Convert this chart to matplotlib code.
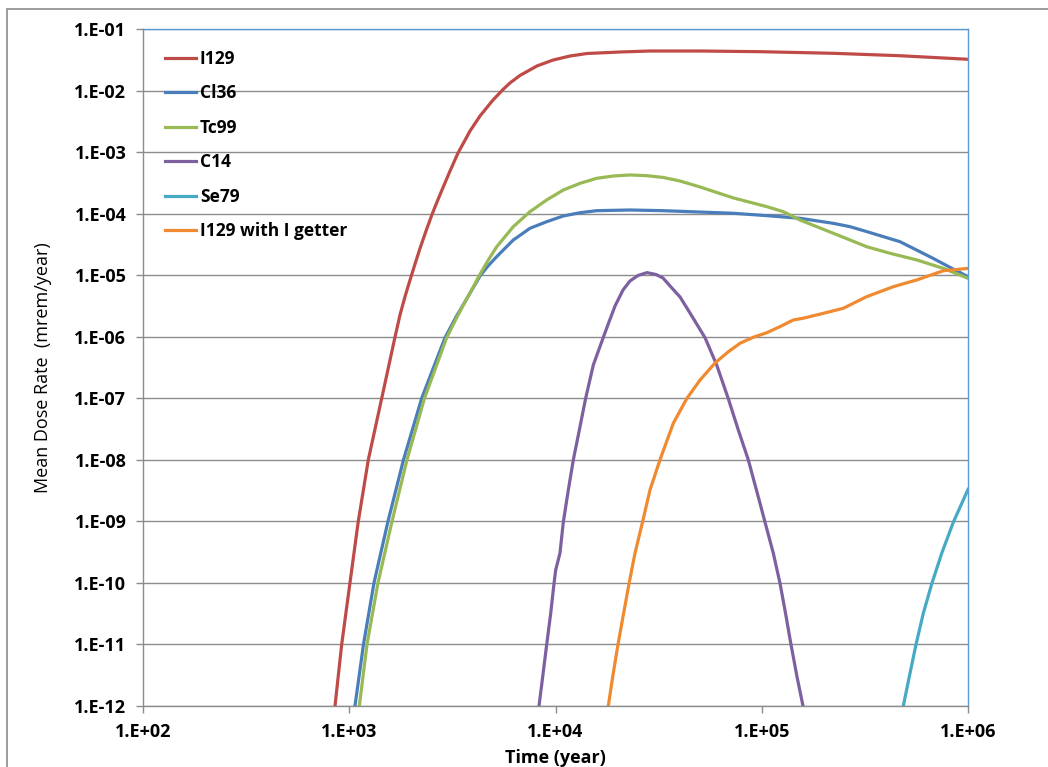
import numpy as np
import matplotlib
matplotlib.use("Agg")
import matplotlib.pyplot as plt
from matplotlib.patches import Rectangle

# values (time in years, dose in mrem/year)
i129_t = [853, 919, 1008, 1106, 1237, 1437, 1667, 1762, 1864, 1971, 2084, 2203, 2356,
          2519, 2664, 2849, 3080, 3368, 3850, 4305, 4977, 5566, 6017, 6729, 8135, 9725,
          11760, 14220, 20550, 28720, 50220, 98060, 221600, 468100, 1e6]
i129_v = [1e-12, 1e-11, 1e-10, 1e-9, 1e-8, 1e-7, 9.9e-7, 2.26e-6, 4.5e-6, 8.36e-6,
          1.52e-5, 2.72e-5, 5.23e-5, 9.68e-5, 1.55e-4, 2.66e-4, 4.93e-4, 9.67e-4,
          2.20e-3, 3.86e-3, 7.02e-3, 1.04e-2, 1.33e-2, 1.76e-2, 2.51e-2, 3.13e-2,
          3.64e-2, 4.0e-2, 4.23e-2, 4.39e-2, 4.39e-2, 4.28e-2, 4.03e-2, 3.68e-2, 3.22e-2]

cl36_t = [1066, 1172, 1318, 1541, 1832, 2245, 2913, 3293, 3682, 3981, 4305, 4707, 5187,
          6243, 7522, 9065, 10910, 13150, 15840, 22970, 33200, 44880, 72560, 106000,
          153300, 221600, 267900, 323800, 468100, 676600, 817800, 1e6]
cl36_v = [1e-12, 1e-11, 1e-10, 1e-9, 1e-8, 1e-7, 9.66e-7, 2.09e-6, 3.95e-6, 6.19e-6,
          9.7e-6, 1.41e-5, 2.0e-5, 3.73e-5, 5.78e-5, 7.40e-5, 9.16e-5, 1.035e-4,
          1.117e-4, 1.146e-4, 1.117e-4, 1.076e-4, 1.014e-4, 9.27e-5, 8.40e-5, 6.97e-5,
          6.14e-5, 5.09e-5, 3.50e-5, 1.88e-5, 1.34e-5, 9.46e-6]

tc99_t = [1119, 1219, 1378, 1612, 1905, 2316, 2968, 3331, 3682, 3981, 4257, 4707, 5187,
          6243, 7522, 9065, 10910, 13150, 15840, 19070, 22970, 27690, 33320, 40150, 50220,
          72810, 105700, 127200, 153300, 222300, 267900, 322700, 418500, 564000, 759200,
          1e6]
tc99_v = [1e-12, 1e-11, 1e-10, 1e-9, 1e-8, 1e-7, 9.66e-7, 2.09e-6, 3.95e-6, 6.31e-6,
          9.7e-6, 1.73e-5, 2.90e-5, 6.14e-5, 1.076e-4, 1.67e-4, 2.42e-4, 3.11e-4,
          3.75e-4, 4.09e-4, 4.25e-4, 4.14e-4, 3.87e-4, 3.39e-4, 2.71e-4, 1.80e-4,
          1.30e-4, 1.076e-4, 7.88e-5, 4.80e-5, 3.73e-5, 2.90e-5, 2.27e-5, 1.77e-5,
          1.29e-5, 8.9e-6]

c14_t = [8318, 8669, 9065, 9478, 9833, 10020, 10510, 10910, 11540, 12200, 13050, 13980,
         15250, 16940, 18170, 19440, 21250, 22970, 25120, 27770, 30710, 33200, 35920,
         40150, 44880, 53070, 60480, 68830, 76970, 86060, 99170, 103700, 113800, 122600,
         130400, 138600, 148200, 158500]
c14_v = [1e-12, 3.0e-12, 1e-11, 3.21e-11, 9.7e-11, 1.62e-10, 3.03e-10, 9.7e-10, 3.24e-9,
         1e-8, 3.05e-8, 9.75e-8, 3.47e-7, 9.19e-7, 1.74e-6, 3.16e-6, 5.75e-6, 8.05e-6,
         9.89e-6, 1.10e-5, 1.026e-5, 9.0e-6, 6.68e-6, 4.43e-6, 2.43e-6, 9.66e-7, 3.47e-7,
         9.86e-8, 3.05e-8, 1e-8, 1.71e-9, 9.7e-10, 3.03e-10, 9.87e-11, 3.21e-11, 1e-11,
         3.0e-12, 1e-12]

se79_t = [485600, 519300, 559700, 607200, 666800, 745600, 849100, 1e6]
se79_v = [1e-12, 3.0e-12, 1e-11, 3.21e-11, 9.6e-11, 3.03e-10, 9.7e-10, 3.3e-9]

getter_t = [18030, 18940, 20090, 21320, 22720, 24290, 26410, 28720, 32110, 37260, 43270,
            50220, 59340, 68620, 78440, 91000, 105700, 122600, 142200, 159000, 198900,
            248600, 322700, 434400, 564000, 759200, 1e6]
getter_v = [1e-12, 3.0e-12, 1e-11, 3.01e-11, 9.7e-11, 3.03e-10, 9.7e-10, 3.24e-9, 1e-8,
            3.93e-8, 9.86e-8, 1.98e-7, 3.74e-7, 5.65e-7, 7.83e-7, 9.8e-7, 1.16e-6,
            1.46e-6, 1.87e-6, 2.0e-6, 2.40e-6, 2.90e-6, 4.48e-6, 6.5e-6, 8.36e-6,
            1.18e-5, 1.29e-5]

x_ticks = [1e2, 1e3, 1e4, 1e5, 1e6]
x_labels = ["1.E+02", "1.E+03", "1.E+04", "1.E+05", "1.E+06"]
y_ticks = [10.0 ** -k for k in range(1, 13)]
y_labels = ["1.E-%02d" % k for k in range(1, 13)]

series = [
    ("I129", i129_t, i129_v, "#BE4B48"),
    ("Cl36", cl36_t, cl36_v, "#4A7EBB"),
    ("Tc99", tc99_t, tc99_v, "#98B954"),
    ("C14", c14_t, c14_v, "#7D60A0"),
    ("Se79", se79_t, se79_v, "#46AAC5"),
    ("I129 with I getter", getter_t, getter_v, "#F08A30"),
]

plt.rcParams['font.family'] = ['Open Sans', 'DejaVu Sans']

fig = plt.figure(figsize=(10.48, 7.67), dpi=100)
fig.patches.append(Rectangle((7 / 1048, -0.1), 1.2, 1 - 9 / 767 + 0.1,
                             transform=fig.transFigure, fill=False,
                             edgecolor="#8c8c8c", lw=1.2))
ax = fig.add_axes([143 / 1048, 1 - 706 / 767, 825 / 1048, 677 / 767])

for name, t, v, col in series:
    ax.plot(t, v, color=col, lw=2.3, label=name, solid_joinstyle="round")

ax.set_xscale("log")
ax.set_yscale("log")
ax.set_xlim(1e2, 1e6)
ax.set_ylim(1e-12, 1e-1)
ax.minorticks_off()
ax.set_xticks(x_ticks)
ax.set_xticklabels(x_labels, fontsize=13, fontweight="bold")
ax.set_yticks(y_ticks)
ax.set_yticklabels(y_labels, fontsize=13, fontweight="bold")
ax.tick_params(axis="both", direction="out", length=5, color="#8c8c8c", width=1)
ax.tick_params(axis="x", pad=7)
ax.tick_params(axis="y", pad=7)

ax.grid(axis="y", color="#8c8c8c", lw=1)
ax.set_axisbelow(True)
for s in ["left", "bottom"]:
    ax.spines[s].set_color("#8c8c8c")
    ax.spines[s].set_linewidth(1)
for s in ["top", "right"]:
    ax.spines[s].set_color("#5B9BD5")
    ax.spines[s].set_linewidth(1)

ax.set_xlabel("Time (year)", fontsize=13, fontweight="bold", labelpad=6)
ax.set_ylabel("Mean Dose Rate  (mrem/year)", fontsize=13, labelpad=16)

leg = ax.legend(loc="upper left", bbox_to_anchor=(0.008, 0.992), frameon=False,
                prop={"size": 12.5, "weight": "bold"}, handlelength=1.75,
                handletextpad=0.25, labelspacing=0.945)

fig.savefig("out.png", dpi=100)
